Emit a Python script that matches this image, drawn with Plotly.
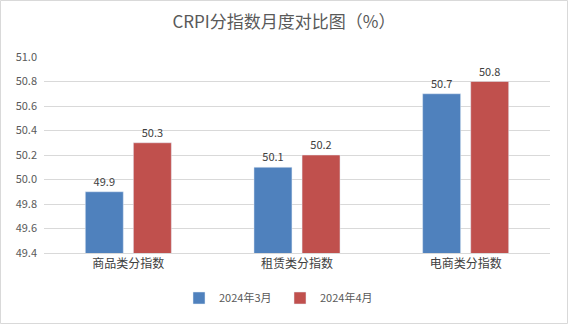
import plotly.graph_objects as go

categories = ["商品类分指数", "租赁类分指数", "电商类分指数"]
series_names = ["2024年3月", "2024年4月"]
march = [49.9, 50.1, 50.7]
april = [50.3, 50.2, 50.8]
colors = ["#4f81bd", "#c0504d"]
tick_vals = [49.4, 49.6, 49.8, 50.0, 50.2, 50.4, 50.6, 50.8, 51.0]

W, H = 568, 324
ml, mr, mt, mb = 44, 18, 57, 71
pw, ph = W - ml - mr, H - mt - mb

font = "Noto Sans CJK SC, Microsoft YaHei, sans-serif"

fig = go.Figure()
for name, vals, c in zip(series_names, [march, april], colors):
    fig.add_trace(go.Bar(
        x=categories, y=vals, name=name, marker_color=c,
        text=[f"{v:.1f}" for v in vals], textposition="outside",
        textfont=dict(size=11, color="#404040"), cliponaxis=False,
    ))

fig.update_layout(
    width=W, height=H,
    margin=dict(l=ml, r=mr, t=mt, b=mb),
    paper_bgcolor="white", plot_bgcolor="white",
    font=dict(family=font, color="#595959"),
    title=dict(text="CRPI分指数月度对比图（%）", x=0.5, xanchor="center",
               y=1 - 22 / H, yanchor="middle",
               font=dict(size=17, color="#595959", family=font)),
    barmode="group", bargap=0.43, bargroupgap=0.21,
    showlegend=True,
    legend=dict(orientation="h", x=(280 - ml) / pw, xanchor="center",
                y=(H - mb - 298) / ph, yanchor="middle",
                font=dict(size=11, color="#595959"), itemwidth=30,
                entrywidth=56, entrywidthmode="pixels",
                traceorder="normal"),
    yaxis=dict(range=[49.4, 51.0], tickvals=tick_vals,
               ticktext=[f"{v:.1f}" for v in tick_vals],
               showgrid=True, gridcolor="#d9d9d9", gridwidth=1,
               zeroline=False, showline=False, ticks="",
               tickfont=dict(size=11, color="#595959"), ticklabelstandoff=6),
    xaxis=dict(showline=True, linecolor="#d9d9d9", linewidth=1, ticks="",
               tickfont=dict(size=12, color="#404040")),
    shapes=[dict(type="rect", xref="paper", yref="paper",
                 x0=(-ml + 0.5) / pw, x1=1 + (mr - 0.5) / pw,
                 y0=-(mb - 0.5) / ph, y1=1 + (mt - 0.5) / ph,
                 line=dict(color="#d9d9d9", width=1))],
)

fig.write_html("out.html")
